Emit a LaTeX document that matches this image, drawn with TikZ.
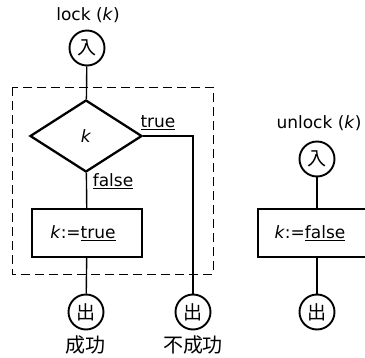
\documentclass[tikz,border=0pt]{standalone}
\usepackage{fontspec}
\setmainfont{DejaVu Sans}
\newfontfamily\jpfont{Noto Sans CJK JP}
\usetikzlibrary{shapes.geometric,positioning}
\tikzset{
	term/.style={circle,draw,line width=1.9pt,minimum size=35pt,inner sep=0pt,font=\jpfont\fontsize{19}{19}\selectfont},
	cond/.style={diamond,draw,line width=2.3pt,minimum width=112pt,minimum height=72pt,inner sep=0pt,font=\fontsize{17}{18}\selectfont},
	proc/.style={rectangle,draw,line width=2.1pt,minimum width=110pt,minimum height=48pt,font=\fontsize{17}{18}\selectfont},
	flow/.style={line width=1.4pt},
	lbl/.style={inner sep=1pt,font=\fontsize{17}{18}\selectfont},
	jlbl/.style={inner sep=1pt,font=\jpfont\fontsize{20}{22}\selectfont},
}
\begin{document}
\begin{tikzpicture}[x=1pt,y=-1pt]
		\clip (0,0) rectangle (365,357);
		% lock
		\node[lbl] (lockname) at (88,15) {lock (\textit{k})};
		\node[term] (in1) at (87,48) {入};
		\node[cond] (test) at (86,136) {\textit{k}};
		\node[proc] (set1) at (87,233) {\textit{k}:=\underline{true}\hspace*{8pt}};
		\node[term] (ok) at (86,312) {出};
		\node[term] (ng) at (193,312) {出};
		\node[lbl] (tlabel) at (158,123) {\underline{true}};
		\node[lbl] (flabel) at (113,181) {\underline{false}};
		\node[jlbl] (oktext) at (86,345) {成功};
		\node[jlbl] (ngtext) at (193,345) {不成功};
		\draw[flow] (in1) -- (test);
		\draw[flow] (test) -- (set1);
		\draw[flow] (set1) -- (ok);
		\draw[flow] (test.east) -| (ng);
		\draw[dash pattern=on 9pt off 5pt,line width=1pt] (12,87) rectangle (213,274);
		% unlock
		\node[lbl] (unlockname) at (319,123) {unlock (\textit{k})};
		\node[term] (in2) at (317,159) {入};
		\node[proc,minimum width=118pt] (set2) at (317,233) {\textit{k}:=\underline{false}\hspace*{14pt}};
		\node[term] (out2) at (317,312) {出};
		\draw[flow] (in2) -- (set2);
		\draw[flow] (set2) -- (out2);
\end{tikzpicture}
\end{document}
